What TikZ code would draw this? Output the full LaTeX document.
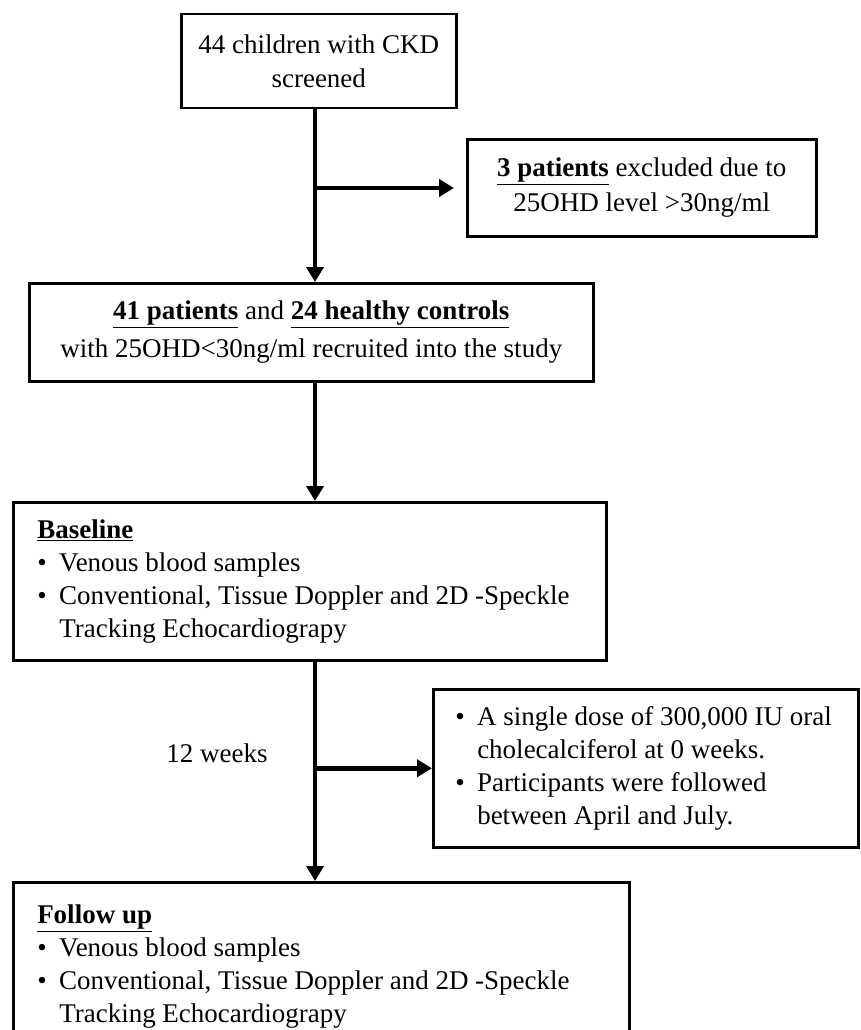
\documentclass[tikz,border=0pt]{standalone}
\usepackage{fontspec}
\setmainfont{Liberation Serif}
\usetikzlibrary{arrows.meta}
\newcommand{\bul}[1]{\par\noindent\hangindent=22pt\hangafter=1\makebox[22pt][l]{\textbullet}#1}
\newcommand{\leftblock}[3]{\makebox[#1][l]{\hspace*{#2}\begin{minipage}[c]{600pt}\fontsize{27}{33}\selectfont #3\end{minipage}}}
\begin{document}
\begin{tikzpicture}[x=1pt,y=-1pt,
  box/.style={draw, line width=2.5pt, inner sep=0pt, anchor=north west},
  conn/.style={line width=4.5pt, -{Triangle[length=15pt,width=17pt]}},
  every node/.style={font=\fontsize{27}{34}\selectfont}]
\useasboundingbox (0,0) rectangle (860,1030);
\clip (0,0) rectangle (860,1030);
\fill[white] (0,0) rectangle (860,1030);

\node[box, minimum width=275pt, minimum height=94pt, align=center] (b1) at (180,13)
  {44 children with CKD\\screened};
\node[box, minimum width=349pt, minimum height=97pt, align=center,
  font=\fontsize{27}{35}\selectfont] (b2) at (466,138)
  {\underline{\textbf{3 patients}} excluded due to\\25OHD level >30ng/ml};
\node[box, minimum width=564pt, minimum height=98pt, align=center,
  font=\fontsize{27}{38}\selectfont] (b3) at (28,282)
  {\underline{\textbf{41 patients}} and \underline{\textbf{24 healthy controls}}\\with 25OHD<30ng/ml recruited into the study};
\node[box, minimum width=593pt, minimum height=158pt] (b4) at (12,501)
  {\leftblock{593pt}{24pt}{%
   \noindent\underline{\textbf{Baseline}}
   \bul{Venous blood samples}
   \bul{Conventional, Tissue Doppler and 2D -Speckle\\Tracking Echocardiograpy}}};
\node[box, minimum width=425pt, minimum height=158pt] (b5) at (432,688)
  {\leftblock{425pt}{22pt}{%
   \bul{A single dose of 300,000 IU oral\\cholecalciferol at 0 weeks.}
   \bul{Participants were followed\\between April and July.}}};
\node[box, minimum width=616pt, minimum height=200pt] (b6) at (12,881)
  {\makebox[616pt][l]{\hspace*{24pt}\parbox[c][200pt][t]{580pt}{\fontsize{27}{33}\selectfont
   \vspace*{23pt}\noindent\underline{\textbf{Follow up}}
   \bul{Venous blood samples}
   \bul{Conventional, Tissue Doppler and 2D -Speckle\\Tracking Echocardiograpy}}}};
\node (wk) at (217,753) {12 weeks};

\coordinate (sp) at (315,0);
\coordinate (j1) at (sp |- 0,188);
\coordinate (j2) at (sp |- b5.west);
\draw[conn] (sp |- b1.south) -- (sp |- b3.north);
\draw[conn, shorten >=12pt] (j1) -- (j1 -| b2.west);
\draw[conn] (sp |- b3.south) -- (sp |- b4.north);
\draw[conn] (sp |- b4.south) -- (sp |- b6.north);
\draw[conn] (j2) -- (b5.west);
\end{tikzpicture}
\end{document}
